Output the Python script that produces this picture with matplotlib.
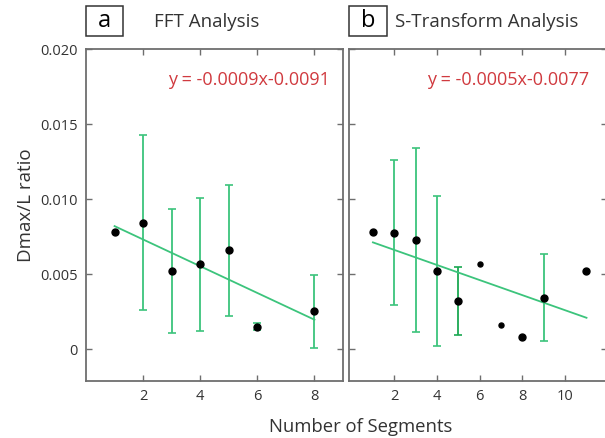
import matplotlib
matplotlib.use("Agg")
import matplotlib.pyplot as plt
from matplotlib.patches import Rectangle
import numpy as np

plt.rcParams['font.family'] = ['Open Sans', 'DejaVu Sans']

# Panel a: FFT Analysis
fft_x = [1, 2, 3, 4, 5, 6, 8]
fft_y = [0.00782, 0.00844, 0.00522, 0.00567, 0.0066, 0.00149, 0.00253]
fft_err_hi = [None, 0.0143, 0.00935, 0.01009, 0.01095, 0.00176, 0.00496]
fft_err_lo = [None, 0.0026, 0.00109, 0.00124, 0.00224, 0.00127, 0.00011]
fft_fit = (-0.00089, 0.0091)
fft_eq = "y = -0.0009x-0.0091"

# Panel b: S-Transform Analysis
st_x = [1, 2, 3, 4, 5, 6, 7, 8, 9, 11]
st_y = [0.00782, 0.00778, 0.00729, 0.00522, 0.0032, 0.00569, 0.00164, 0.00082, 0.00344, 0.00524]
st_err_hi = [None, 0.0126, 0.01342, 0.0102, 0.00549, None, None, None, 0.00638, None]
st_err_lo = [None, 0.00295, 0.00118, 0.00025, 0.00093, None, None, None, 0.00053, None]
st_small = [6, 7]
st_fit = (-0.000502, 0.00763)
st_eq = "y = -0.0005x-0.0077"

yticks = [0, 0.005, 0.010, 0.015, 0.020]
ytick_labels = ["0", "0.005", "0.010", "0.015", "0.020"]

GREEN = '#3cc47c'
DKGREEN = '#1aa852'
RED = '#d03a3f'
SPINE = '#6e6e6e'
TXT = '#333333'

fig = plt.figure(figsize=(6.05, 4.38), dpi=100)
W, H = 605, 438
def ax_rect(l, r, t, b):
    return [l / W, 1 - b / H, (r - l) / W, (b - t) / H]

axa = fig.add_axes(ax_rect(86, 343, 49, 381))
axb = fig.add_axes(ax_rect(349, 607, 49, 381))

def draw(ax, xs, ys, hi, lo, fit, eq, eqx, xlim, xticks, small=(), dark=()):
    for x, y, h, l in zip(xs, ys, hi, lo):
        if h is not None:
            c = DKGREEN if x in dark else GREEN
            ax.errorbar([x], [y], yerr=[[y - l], [h - y]], fmt='none',
                        ecolor=c, elinewidth=1.3, capsize=2.6, capthick=1.2, zorder=2)
    xf = np.array([min(xs), max(xs)])
    ax.plot(xf, fit[0] * xf + fit[1], color=GREEN, lw=1.3, zorder=3)
    for x, y in zip(xs, ys):
        ms = 3.6 if x in small else 5
        ax.plot([x], [y], 'o', color='black', ms=ms, mec='black', zorder=4)
    ax.set_xlim(*xlim)
    ax.set_ylim(-0.0021, 0.020)
    ax.set_xticks(xticks)
    ax.set_xticklabels([str(t) for t in xticks])
    ax.set_yticks(yticks)
    ax.tick_params(direction='in', top=True, right=True, length=4, width=1,
                   color=SPINE, labelcolor=TXT, labelsize=10.5, pad=6)
    for s in ax.spines.values():
        s.set_color(SPINE)
        s.set_linewidth(1.3)
    ax.text(eqx, 0.907, eq, transform=ax.transAxes, ha='right', va='center',
            color=RED, fontsize=13)

draw(axa, fft_x, fft_y, fft_err_hi, fft_err_lo, fft_fit, fft_eq, 0.949, (0, 9), [2, 4, 6, 8])
axa.set_yticklabels(ytick_labels)
draw(axb, st_x, st_y, st_err_hi, st_err_lo, st_fit, st_eq, 0.93, (-0.12, 11.96), [2, 4, 6, 8, 10],
     small=st_small, dark=[5])
axb.set_yticklabels([])

axa.set_ylabel("Dmax/L ratio", fontsize=13.5, color=TXT)
axa.yaxis.set_label_coords(-0.2, 0.53)

fig.text(361 / W, 1 - 427 / H, "Number of Segments", ha='center', va='center',
         fontsize=13.3, color=TXT)

# panel labels
for (bl, br), lab, title, tx in [((86, 123), 'a', 'FFT Analysis', 207),
                                  ((349, 387), 'b', 'S-Transform Analysis', 487)]:
    fig.add_artist(Rectangle((bl / W, 1 - 36 / H), (br - bl) / W, 30 / H,
                             transform=fig.transFigure, fc='white', ec='#333333', lw=1.1))
    fig.text((bl + br) / 2 / W, 1 - 21 / H, lab, ha='center', va='center', fontsize=17, color='black')
    fig.text(tx / W, 1 - 22 / H, title, ha='center', va='center', fontsize=13.5, color=TXT)

fig.savefig("out.png", dpi=100)
